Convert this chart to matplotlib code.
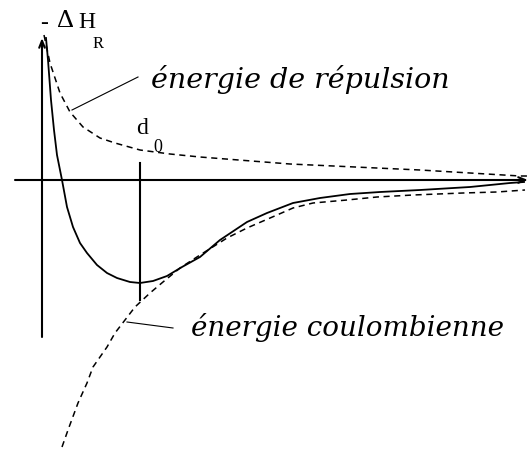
import matplotlib.pyplot as plt

plt.rcParams['font.family'] = 'DejaVu Serif'

# distance (x) and energy (y); 0,0 at the axes crossing
r_total = [5, 7, 10, 13, 16, 21, 26, 32, 39, 46, 56, 66, 76, 89, 99, 112, 126,
           141, 159, 179, 206, 226, 252, 279, 309, 339, 379, 429, 469, 483]
e_total = [142, 120, 80, 50, 25, 0, -27, -47, -63, -73, -85, -93, -98, -102, -103,
           -101, -96, -87, -77, -60, -42, -33, -23, -18, -14, -12, -10, -7, -3, -2]

r_rep = [3, 9, 19, 29, 42, 59, 74, 99, 129, 159, 249, 379, 479, 486]
e_rep = [145, 117, 87, 68, 53, 42, 37, 30, 26, 23, 16, 10, 4, 4]

r_coul = [21, 27, 37, 46, 52, 59, 66, 74, 84, 94, 109, 122, 139, 159, 186, 206,
          236, 252, 272, 306, 336, 372, 422, 456, 484]
e_coul = [-267, -250, -223, -203, -187, -177, -167, -153, -140, -127, -113, -102,
          -88, -75, -58, -48, -35, -28, -23, -20, -17, -15, -13, -12, -10]

d0 = 99

fig = plt.figure(figsize=(5.31, 4.5), dpi=100)
ax = fig.add_axes([0, 0, 1, 1])
ax.set_xlim(-41, 490)
ax.set_ylim(-270, 180)
ax.axis('off')

arrow = dict(arrowstyle='->,head_length=0.5,head_width=0.2', lw=1.5, color='black',
             shrinkA=0, shrinkB=0)
ax.annotate('', xy=(1, 142), xytext=(1, -157), arrowprops=arrow)
ax.annotate('', xy=(487, 0), xytext=(-26, 0), arrowprops=arrow)
ax.plot([d0, d0], [17, -120], color='black', lw=1.5)

ax.plot(r_total, e_total, color='black', lw=1.3)
ax.plot(r_rep, e_rep, color='black', lw=1.1, linestyle=(0, (4, 3)))
ax.plot(r_coul, e_coul, color='black', lw=1.1, linestyle=(0, (4, 3)))

# labels
serif = 'Liberation Serif'
ax.text(-1, 156, '-', family=serif, fontsize=17, va='center', ha='left')
ax.text(16, 159, 'Δ', family=serif, fontsize=19, va='center', ha='left')
ax.text(37, 157, 'H', family=serif, fontsize=17, va='center', ha='left')
ax.text(52, 136, 'R', family=serif, fontsize=12, va='center', ha='left')
ax.text(95, 52, 'd', family=serif, fontsize=17, va='center', ha='left')
ax.text(112, 32, '0', family=serif, fontsize=13, va='center', ha='left')

ax.plot([31, 97], [70, 103], color='black', lw=0.8)
ax.text(110, 101, 'énergie de répulsion', style='italic', fontsize=20.5,
        va='center', ha='left')
ax.plot([86, 132], [-142, -148], color='black', lw=0.8)
ax.text(150, -147, 'énergie coulombienne', style='italic', fontsize=20,
        va='center', ha='left')

plt.savefig('out.png', dpi=100)
